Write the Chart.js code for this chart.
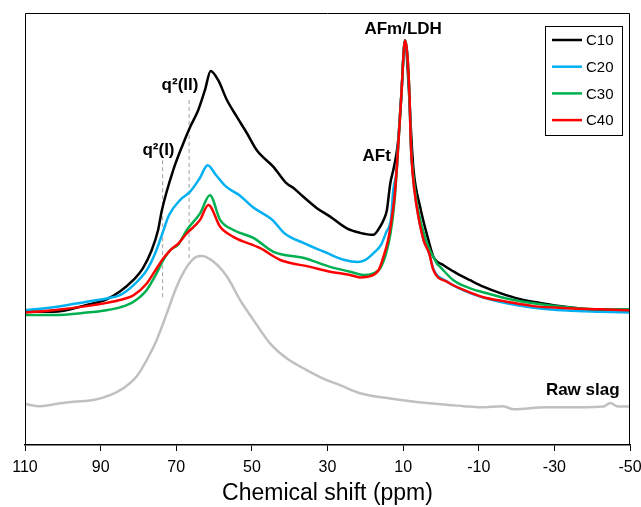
<!DOCTYPE html>
<html lang="en">

<head>
    <meta charset="UTF-8">
    <title>NMR spectra</title>
    <script src="https://cdn.jsdelivr.net/npm/chart.js"></script>
    <style>
        body { margin: 0; background: #fff; }
        #wrap { width: 641px; height: 507px; }
    </style>
</head>

<body>
    <div id="wrap">
        <canvas id="chartNMR"></canvas>
    </div>

    <script>
        // chemical shift (ppm) and intensity (AFm peak = 100)
        const c10Shift = [110, 102.5, 93.7, 88.4, 84.9, 81.4, 78.8, 76.5, 74.8, 73.8, 70.8, 68.1, 66.3, 64.2, 62.4, 60.9, 58.9, 56.6, 54.0, 51.3, 48.7, 44.3, 40.8, 39.0, 36.4, 32.8, 29.3, 24.9, 21.4, 17.9, 16.1, 15.2, 14.3, 13.4, 12.6, 11.9, 11.3, 10.5, 9.5, 8.4, 7.8, 7.2, 5.5, 3.3, 2.0, -0.7, -4.2, -7.7, -11.2, -15.7, -21.0, -26.2, -33.3, -42.2, -50];
        const c10Val = [32.9, 32.9, 34.6, 36.0, 37.9, 40.7, 43.7, 48.1, 53.1, 58.0, 67.9, 74.6, 78.6, 82.7, 87.7, 92.4, 90.1, 85.2, 81.1, 77.0, 72.8, 68.7, 64.6, 63.5, 61.3, 58.5, 56.4, 53.5, 52.4, 51.9, 53.9, 55.5, 58.0, 64.6, 67.9, 71.2, 75.3, 86.0, 100, 86.3, 75.5, 67.5, 58.8, 50.6, 46.5, 44.4, 42.4, 40.7, 39.1, 37.5, 36.0, 35.1, 34.1, 33.3, 33.2];

        const c20Shift = [110, 102.5, 93.7, 88.4, 84.9, 81.3, 77.8, 75.6, 73.8, 71.9, 69.0, 66.4, 63.8, 61.7, 59.5, 56.8, 53.3, 49.8, 44.6, 41.4, 36.1, 30.8, 25.5, 22.0, 20.2, 17.6, 15.8, 14.5, 13.2, 12.6, 11.7, 11.25, 10.5, 9.5, 8.3, 8.0, 7.5, 6.4, 4.6, 3.1, 2.0, -1.6, -6.0, -11.2, -17.4, -24.5, -33.3, -42.1, -50];
        const c20Val = [33.3, 34.0, 35.4, 36.2, 37.0, 39.5, 43.2, 47.3, 51.9, 56.8, 60.5, 62.5, 65.9, 69.1, 66.7, 63.8, 61.7, 58.8, 55.6, 52.3, 49.8, 47.7, 45.7, 45.2, 45.6, 47.6, 49.5, 52.5, 56.0, 63.0, 68.0, 75.5, 86.0, 100, 86.0, 75.5, 67.5, 59.0, 50.8, 47.3, 43.5, 40.4, 38.2, 36.4, 35.0, 33.9, 33.2, 32.9, 32.7];

        const c30Shift = [110, 102.5, 93.7, 88.4, 84.9, 81.3, 77.8, 75.2, 73.4, 71.6, 69.4, 67.2, 63.7, 61.1, 58.4, 54.9, 49.5, 44.3, 36.2, 29.3, 24.0, 20.5, 17.9, 16.1, 14.6, 13.3, 12.3, 11.6, 10.5, 9.5, 8.3, 8.0, 7.4, 6.2, 4.0, 1.1, 0.2, -3.3, -7.7, -12.1, -17.4, -24.5, -33.3, -42.1, -50];
        const c30Val = [32.1, 32.1, 32.7, 33.3, 34.0, 35.4, 38.3, 42.4, 45.7, 48.1, 49.6, 53.1, 57.2, 61.7, 55.6, 53.1, 51.1, 47.7, 46.2, 44.0, 42.8, 42.0, 42.4, 43.6, 47.0, 52.5, 60.0, 69.0, 86.0, 100, 86.0, 75.3, 67.2, 58.8, 50.6, 44.9, 44.0, 40.7, 38.7, 37.5, 36.2, 35.0, 34.0, 33.5, 33.5];

        const c40Shift = [110, 102.5, 93.7, 88.4, 84.9, 81.3, 77.8, 75.2, 73.4, 71.6, 69.4, 67.2, 63.7, 61.5, 58.4, 54.9, 47.8, 42.5, 34.6, 29.3, 24.0, 21.4, 18.7, 16.5, 15.2, 14.0, 13.0, 12.2, 11.5, 10.5, 9.5, 8.3, 8.0, 7.5, 6.4, 4.6, 3.1, 2.0, -1.6, -6.0, -11.2, -17.4, -24.5, -33.3, -42.1, -50];
        const c40Val = [32.7, 33.3, 34.3, 35.1, 35.8, 37.0, 39.9, 43.6, 46.1, 48.1, 49.8, 52.3, 55.6, 59.3, 53.9, 51.4, 48.6, 45.7, 44.0, 42.8, 42.0, 41.4, 41.7, 43.2, 46.5, 50.5, 56.0, 62.0, 71.0, 86.0, 100, 86.0, 75.3, 67.2, 58.8, 50.6, 47.3, 43.2, 40.3, 38.3, 36.5, 35.4, 34.3, 33.8, 33.5, 33.3];

        const slagShift = [110, 106, 100.7, 97.2, 91.9, 87.5, 84.0, 80.5, 77.8, 75.2, 72.5, 69.9, 67.2, 64.6, 63.3, 60.2, 56.6, 53.1, 49.6, 45.2, 40.8, 35.5, 30.2, 26.7, 21.4, 13.4, 2.9, -6.0, -10.4, -16.5, -19.2, -28.0, -36.8, -43.0, -44.8, -46.5, -50];
        const slagVal = [10.1, 9.6, 10.3, 10.7, 11.1, 12.3, 14.0, 16.9, 21.0, 25.9, 32.5, 39.1, 44.0, 46.5, 46.7, 45.3, 41.6, 35.8, 30.9, 25.1, 21.4, 18.5, 16.0, 14.8, 12.8, 11.5, 10.3, 9.6, 9.3, 9.6, 8.8, 9.3, 9.3, 9.5, 10.4, 9.6, 9.5];

        // q2 site markers: shift, lower and upper intensity
        const q2Shift = [73.6, 66.6];
        const q2Low = [36.5, 46.2];
        const q2High = [70.4, 85.7];

        const xTicks = [110, 90, 70, 50, 30, 10, -10, -30, -50];

        // peak labels
        const labelText = ['q²(I)', 'q²(II)', 'AFt', 'AFm/LDH', 'Raw slag'];
        const labelShift = [74.7, 69.0, 17.0, 10.0, -37.5];
        const labelLevel = [72.8, 88.9, 71.2, 102.6, 13.6];

        const FONT = "'Liberation Sans', Arial, sans-serif";

        function pts(xs, ys) {
            return xs.map((x, i) => ({ x: x, y: ys[i] }));
        }

        function line(label, xs, ys, color, order) {
            return {
                label: label,
                data: pts(xs, ys),
                borderColor: color,
                borderWidth: 2.5,
                pointRadius: 0,
                cubicInterpolationMode: 'monotone',
                order: order
            };
        }

        const datasets = [
            line('C10', c10Shift, c10Val, '#000000', 3),
            line('C20', c20Shift, c20Val, '#00b0f0', 2),
            line('C30', c30Shift, c30Val, '#00b050', 1),
            line('C40', c40Shift, c40Val, '#ff0000', 0),
            line('Raw slag', slagShift, slagVal, '#c0c0c0', 4)
        ];
        q2Shift.forEach((s, i) => {
            datasets.push({
                label: 'q2_' + i,
                data: [{ x: s, y: q2Low[i] }, { x: s, y: q2High[i] }],
                borderColor: '#a0a0a0',
                borderWidth: 1,
                borderDash: [4, 3],
                pointRadius: 0,
                tension: 0,
                order: 5
            });
        });

        const legendSeries = ['C10', 'C20', 'C30', 'C40'];

        // box, peak labels and legend
        const decor = {
            id: 'decor',
            afterDatasetsDraw(chart) {
                const ctx = chart.ctx;
                const a = chart.chartArea;
                const xs = chart.scales.x, ys = chart.scales.y;
                ctx.save();

                ctx.strokeStyle = '#000';
                ctx.lineWidth = 1;
                ctx.beginPath();
                ctx.moveTo(a.left + 0.5, a.bottom);
                ctx.lineTo(a.left + 0.5, a.top + 0.5);
                ctx.lineTo(a.right - 0.5, a.top + 0.5);
                ctx.lineTo(a.right - 0.5, a.bottom);
                ctx.stroke();

                ctx.fillStyle = '#000';
                ctx.font = 'bold 17px ' + FONT;
                ctx.textAlign = 'center';
                ctx.textBaseline = 'middle';
                labelText.forEach((t, i) => {
                    ctx.fillText(t, xs.getPixelForValue(labelShift[i]), ys.getPixelForValue(labelLevel[i]));
                });

                // legend
                const bx = a.right - 85, by = a.top + 13, bw = 77, bh = 109;
                ctx.fillStyle = '#fff';
                ctx.fillRect(bx, by, bw, bh);
                ctx.strokeStyle = '#000';
                ctx.strokeRect(bx + 0.5, by + 0.5, bw, bh);
                ctx.font = '15px ' + FONT;
                ctx.textAlign = 'left';
                legendSeries.forEach((name, i) => {
                    const ds = chart.data.datasets.find(d => d.label === name);
                    const yy = by + 14 + i * 26.7;
                    ctx.strokeStyle = ds.borderColor;
                    ctx.lineWidth = 2.5;
                    ctx.beginPath();
                    ctx.moveTo(bx + 7, yy);
                    ctx.lineTo(bx + 37, yy);
                    ctx.stroke();
                    ctx.fillStyle = '#000';
                    ctx.fillText(name, bx + 41, yy + 1);
                });
                ctx.restore();
            }
        };

        new Chart(document.getElementById('chartNMR').getContext('2d'), {
            type: 'line',
            data: { datasets: datasets },
            options: {
                responsive: true,
                maintainAspectRatio: false,
                animation: false,
                layout: { padding: { top: 13, left: 25, right: 11, bottom: 0 } },
                plugins: {
                    legend: { display: false },
                    tooltip: { enabled: false }
                },
                scales: {
                    x: {
                        type: 'linear',
                        reverse: true,
                        min: -50,
                        max: 110,
                        afterBuildTicks: axis => { axis.ticks = xTicks.map(v => ({ value: v })); },
                        afterFit: axis => {
                            axis.paddingLeft = 0;
                            axis.paddingRight = 0;
                            axis.height = 62;
                        },
                        ticks: {
                            color: '#000',
                            padding: 7,
                            font: { family: FONT, size: 16 }
                        },
                        grid: {
                            display: true,
                            drawOnChartArea: false,
                            tickLength: 6,
                            color: '#000'
                        },
                        border: { color: '#000', width: 1.5 },
                        title: {
                            display: true,
                            text: 'Chemical shift (ppm)',
                            color: '#000',
                            font: { family: FONT, size: 23 },
                            padding: { top: 0, bottom: 0 }
                        }
                    },
                    y: {
                        display: false,
                        min: 0,
                        max: 106.7
                    }
                }
            },
            plugins: [decor]
        });
    </script>

</body>

</html>
